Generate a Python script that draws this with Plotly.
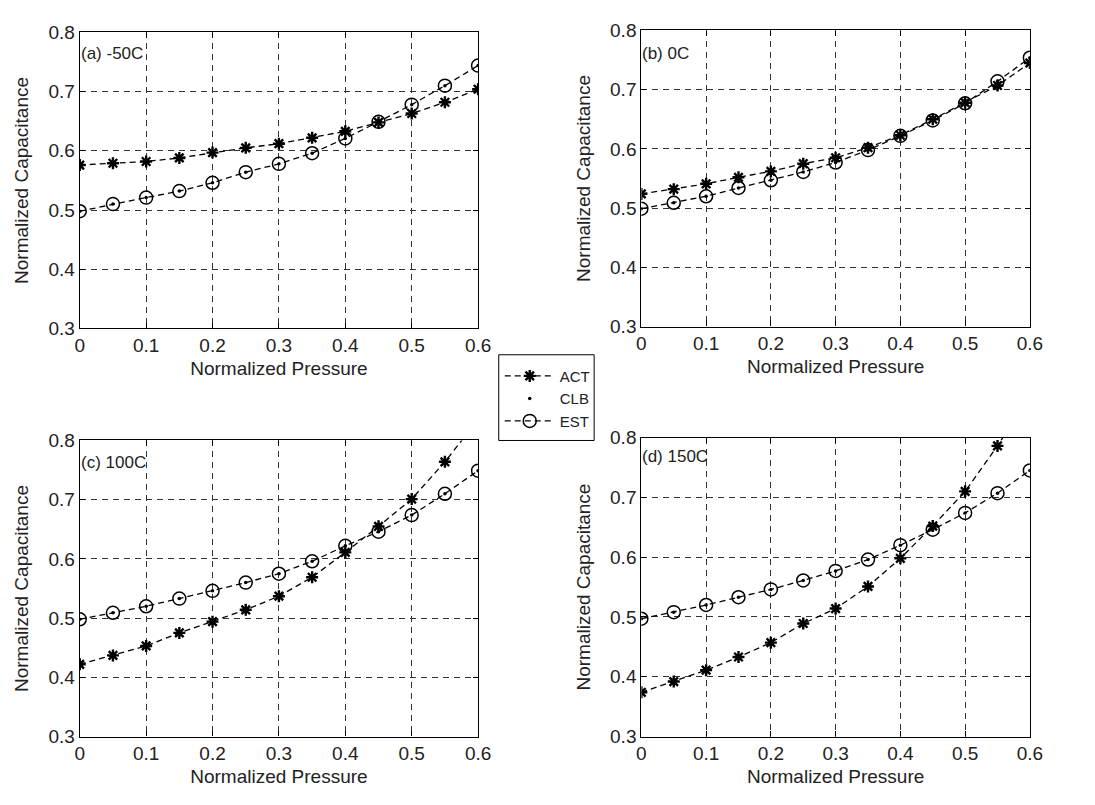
import plotly.graph_objects as go

pressure = [0, 0.05, 0.1, 0.15, 0.2, 0.25, 0.3, 0.35, 0.4, 0.45, 0.5, 0.55, 0.6]

act_a = [0.576, 0.579, 0.582, 0.588, 0.597, 0.605, 0.612, 0.622, 0.633, 0.648, 0.663, 0.682, 0.704]
est_a = [0.498, 0.510, 0.521, 0.532, 0.546, 0.564, 0.578, 0.596, 0.621, 0.649, 0.678, 0.710, 0.744]
clb_a = [0.498, 0.510, 0.521, 0.532, 0.546, 0.564, 0.578, 0.596, 0.621, 0.649, 0.678, 0.710, 0.744]

act_b = [0.524, 0.532, 0.541, 0.552, 0.562, 0.575, 0.585, 0.602, 0.623, 0.650, 0.678, 0.707, 0.745]
est_b = [0.499, 0.509, 0.520, 0.534, 0.547, 0.561, 0.577, 0.598, 0.622, 0.648, 0.677, 0.714, 0.754]
clb_b = [0.499, 0.509, 0.520, 0.534, 0.547, 0.561, 0.577, 0.598, 0.622, 0.648, 0.677, 0.714, 0.754]

act_c = [0.422, 0.437, 0.453, 0.475, 0.494, 0.514, 0.537, 0.569, 0.611, 0.655, 0.701, 0.764, 0.835]
est_c = [0.498, 0.509, 0.520, 0.533, 0.546, 0.560, 0.575, 0.596, 0.622, 0.646, 0.674, 0.710, 0.749]
clb_c = [0.498, 0.509, 0.520, 0.533, 0.546, 0.560, 0.575, 0.596, 0.622, 0.646, 0.674, 0.710, 0.749]

act_d = [0.374, 0.392, 0.411, 0.433, 0.457, 0.489, 0.514, 0.551, 0.598, 0.652, 0.710, 0.786, 0.870]
est_d = [0.497, 0.508, 0.520, 0.533, 0.546, 0.561, 0.577, 0.596, 0.620, 0.646, 0.674, 0.707, 0.745]
clb_d = [0.497, 0.508, 0.520, 0.533, 0.546, 0.561, 0.577, 0.596, 0.620, 0.646, 0.674, 0.707, 0.745]

panel_labels = ["(a) -50C", "(b) 0C", "(c) 100C", "(d) 150C"]
x_ticks = [0, 0.1, 0.2, 0.3, 0.4, 0.5, 0.6]
y_ticks = [0.3, 0.4, 0.5, 0.6, 0.7, 0.8]
x_title = "Normalized Pressure"
y_title = "Normalized Capacitance"

W, H = 1095, 805
FONT = "Liberation Sans, Arial, sans-serif"

# pixel boxes of plot areas: (left, right, top, bottom)
boxes = [(76, 481, 23, 327), (647, 1042, 21, 325), (76, 481, 442, 746), (647, 1042, 439, 746)]
label_y = [45, 45, 465, 458]

data = [(act_a, clb_a, est_a), (act_b, clb_b, est_b), (act_c, clb_c, est_c), (act_d, clb_d, est_d)]

fig = go.Figure()
for i, (act, clb, est) in enumerate(data):
    sfx = "" if i == 0 else str(i + 1)
    xa, ya = "x" + sfx, "y" + sfx
    show = i == 0
    fig.add_trace(go.Scatter(x=pressure, y=act, name="ACT", mode="lines+markers", xaxis=xa, yaxis=ya,
                             line=dict(color="black", width=1.3, dash="6px,4px"),
                             marker=dict(symbol="asterisk-open", size=10, color="black",
                                         line=dict(color="black", width=2.4)),
                             showlegend=show))
    fig.add_trace(go.Scatter(x=pressure, y=clb, name="CLB", mode="markers", xaxis=xa, yaxis=ya,
                             marker=dict(symbol="circle", size=3.5, color="black"),
                             showlegend=show))
    fig.add_trace(go.Scatter(x=pressure, y=est, name="EST", mode="lines+markers", xaxis=xa, yaxis=ya,
                             line=dict(color="black", width=1.3, dash="6px,4px"),
                             marker=dict(symbol="circle-open", size=13, color="black",
                                         line=dict(color="black", width=1.5)),
                             showlegend=show))

layout = dict(width=W, height=H, margin=dict(l=0, r=0, t=0, b=0),
              paper_bgcolor="white", plot_bgcolor="white",
              font=dict(family=FONT, size=18, color="black"))

annotations = []
for i, (l, r, t, b) in enumerate(boxes):
    sfx = "" if i == 0 else str(i + 1)
    ax_common = dict(showline=True, linecolor="black", linewidth=1.2, mirror="ticks",
                     ticks="inside", ticklen=5, tickcolor="black",
                     showgrid=True, gridcolor="#333333", gridwidth=1, griddash="6px,5px",
                     zeroline=False, tickfont=dict(size=19, family=FONT, color="#222222"),
                     fixedrange=True)
    layout["xaxis" + sfx] = dict(ax_common, domain=[l / W, r / W], range=[0, 0.6],
                                 tickvals=x_ticks, anchor="y" + sfx,
                                 title=dict(text=x_title, font=dict(size=19, family=FONT, color="#222222"),
                                            standoff=6))
    layout["yaxis" + sfx] = dict(ax_common, domain=[1 - b / H, 1 - t / H], range=[0.3, 0.8],
                                 tickvals=y_ticks, anchor="x" + sfx,
                                 title=dict(text=y_title, font=dict(size=19, family=FONT, color="#222222"),
                                            standoff=14))
    annotations.append(dict(text=panel_labels[i], xref="paper", yref="paper",
                            x=(l - 1) / W, y=1 - label_y[i] / H, xanchor="left", yanchor="middle",
                            showarrow=False, font=dict(size=17, family=FONT, color="#222222")))

layout["annotations"] = annotations
layout["shapes"] = [dict(type="rect", xref="paper", yref="paper",
                         x0=502 / W, x1=599 / W, y0=1 - 442 / H, y1=1 - 354 / H,
                         line=dict(color="black", width=1), fillcolor="white", layer="above")]
layout["legend"] = dict(x=503 / W, y=1 - 359 / H, xanchor="left", yanchor="top",
                        borderwidth=0, bgcolor="rgba(0,0,0,0)",
                        font=dict(size=15, family=FONT, color="#222222"),
                        tracegroupgap=0, itemwidth=50)

fig.update_layout(**layout)
fig.write_html("out.html")
